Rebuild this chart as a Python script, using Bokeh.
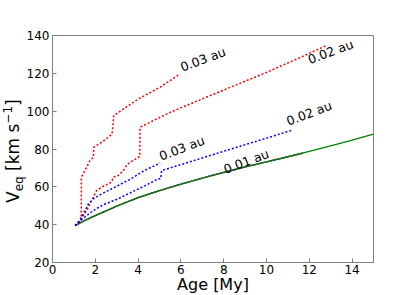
import math
from bokeh.plotting import figure
from bokeh.models import Range1d, FixedTicker, Div
from bokeh.layouts import row
from bokeh.embed import file_html
from bokeh.resources import INLINE
from bokeh.core.properties import value

# ---- data ----
x_ticks = [0, 2, 4, 6, 8, 10, 12, 14]
y_ticks = [20, 40, 60, 80, 100, 120, 140]

t_green = [1.06, 1.5, 2, 3, 4, 5, 6, 7, 8, 9, 10, 11, 12, 13, 14, 15]
v_green = [39.5, 42.2, 44.8, 49.8, 54.3, 58.0, 61.4, 64.6, 67.6, 70.5, 73.2, 75.9, 78.7, 81.7, 84.7, 87.8]

t_001 = [1.06, 1.5, 2, 3, 4, 5, 6, 7, 8, 9, 10, 11, 11.7]
v_001 = [39.5, 42.2, 44.8, 49.8, 54.3, 58.0, 61.4, 64.6, 67.6, 70.5, 73.2, 75.9, 77.8]

t_red_003 = [1.06, 1.2, 1.34, 1.35, 1.44, 1.6, 1.75, 1.91, 1.93, 2.06, 2.3, 2.61, 2.78, 2.82, 2.86, 4.02, 5.03, 5.96]
v_red_003 = [39.5, 41.0, 42.2, 65.1, 67.0, 70.4, 73.9, 75.7, 81.0, 81.9, 83.6, 86.2, 88.0, 92.0, 97.7, 106.5, 112.7, 119.7]

t_red_002 = [1.06, 1.3, 1.6, 1.91, 2.06, 2.3, 2.76, 2.84, 3.07, 3.31, 3.46, 3.62, 4.08, 4.09, 5.5, 7.0, 8.5, 10.0, 11.5, 12.8]
v_red_002 = [39.5, 42.5, 47.5, 54.5, 58.0, 59.8, 62.5, 65.1, 66.0, 68.6, 71.3, 73.0, 76.0, 91.5, 99.4, 106.5, 113.5, 120.5, 128.0, 134.7]

t_blue_003 = [1.06, 1.25, 1.44, 1.68, 1.91, 2.3, 3.07, 3.69, 4.24, 5.03]
v_blue_003 = [39.5, 42.0, 45.7, 51.0, 53.7, 56.3, 60.7, 64.4, 68.3, 72.6]

t_blue_002 = [1.06, 1.4, 1.91, 2.3, 3.07, 3.85, 4.4, 4.9, 5.06, 5.1, 6.5, 8.0, 9.5, 11.16]
v_blue_002 = [39.5, 43.0, 47.5, 50.1, 53.7, 58.0, 61.0, 64.0, 64.4, 68.6, 73.5, 78.8, 84.0, 89.8]

lab_x = [6.12, 12.08, 5.13, 11.08, 8.14]
lab_y = [119.3, 123.3, 72.3, 90.8, 65.3]
lab_text = ["0.03 au", "0.02 au", "0.03 au", "0.02 au", "0.01 au"]

FONT = "DejaVu Sans"
GRAY = "#808080"
DOT = "2 2"
DIV_W = 18

p = figure(frame_width=321, frame_height=227,
           min_border_left=52 - DIV_W, min_border_right=30, min_border_top=35, min_border_bottom=30,
           x_range=Range1d(0, 15), y_range=Range1d(20, 140),
           output_backend="svg", toolbar_location=None)
p.xgrid.visible = False
p.ygrid.visible = False
p.outline_line_color = GRAY
p.outline_line_width = 1
p.background_fill_color = "white"
p.border_fill_alpha = 0

p.xaxis.ticker = FixedTicker(ticks=x_ticks)
p.yaxis.ticker = FixedTicker(ticks=y_ticks)
for ax in (p.xaxis[0], p.yaxis[0]):
    ax.axis_line_color = GRAY
    ax.major_tick_line_color = GRAY
    ax.major_tick_in = 4
    ax.major_tick_out = 0
    ax.minor_tick_line_color = None
    ax.major_label_text_font = FONT
    ax.major_label_text_font_size = "12px"
    ax.major_label_text_color = "black"
p.yaxis.major_label_standoff = 3
p.xaxis.major_label_standoff = 2

p.xaxis.axis_label = "Age [My]"
p.xaxis.axis_label_text_font = FONT
p.xaxis.axis_label_text_font_size = "16px"
p.xaxis.axis_label_text_font_style = "normal"
p.xaxis.axis_label_text_color = "black"
p.xaxis.axis_label_standoff = -2

# curves
p.line(t_001, v_001, line_color="red", line_width=1.5, line_dash=DOT)
p.line(t_001, v_001, line_color="blue", line_width=1.5, line_dash=DOT, line_dash_offset=2)
p.line(t_green, v_green, line_color="green", line_width=1.3)
p.line(t_red_003, v_red_003, line_color="red", line_width=1.5, line_dash=DOT)
p.line(t_red_002, v_red_002, line_color="red", line_width=1.5, line_dash=DOT)
p.line(t_blue_003, v_blue_003, line_color="blue", line_width=1.5, line_dash=DOT)
p.line(t_blue_002, v_blue_002, line_color="blue", line_width=1.5, line_dash=DOT)

p.text(x=lab_x, y=lab_y, text=lab_text, angle=0.36,
       text_font=value(FONT), text_font_size="12.5px", text_color="black",
       text_align="left", text_baseline="bottom")

# y-axis label as rotated HTML text: V_eq [km s^-1]
ylab_html = (
    '<div style="position:absolute; left:5px; top:203px; transform:rotate(-90deg); '
    'transform-origin:0 0; white-space:nowrap; font-family:\'DejaVu Sans\'; '
    'font-size:17px; line-height:17px; color:black;">'
    'V<span style="font-size:12px; position:relative; top:3.5px;">eq</span>'
    ' [km s<span style="font-size:12px; position:relative; top:-7px;">\u22121</span>]'
    '</div>'
)
ylab = Div(text=ylab_html, width=DIV_W, height=290, margin=0,
           styles={"overflow": "visible", "position": "relative", "z-index": "10"})

layout = row(ylab, p, spacing=0)
open("out.html", "w").write(file_html(layout, INLINE))
